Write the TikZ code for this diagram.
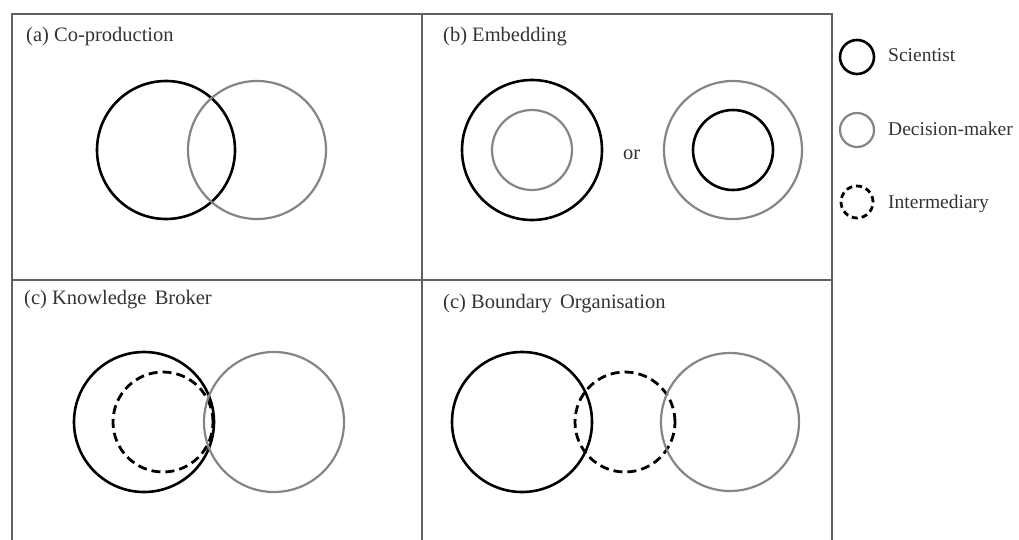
\documentclass[tikz,border=0pt]{standalone}
\usepackage{fontspec}
\setmainfont{Liberation Serif}
\begin{document}
\begin{tikzpicture}[x=1pt,y=-1pt,
  frame/.style={draw=black!62,line width=1.3pt},
  sci/.style={circle,draw=black,line width=2.6pt,inner sep=0pt},
  dm/.style={circle,draw=black!48,line width=2.2pt,inner sep=0pt},
  inter/.style={circle,draw=black,line width=2.8pt,dash pattern=on 9pt off 5pt,inner sep=0pt},
  lbl/.style={anchor=base west,inner sep=0pt,text=black!80,font=\fontsize{19.5}{22}\selectfont},
  plbl/.style={lbl,font=\fontsize{20.5}{23}\selectfont}]
\useasboundingbox (0,0) rectangle (1019,540);
% frame
\coordinate (tl) at (12,14);
\coordinate (tr) at (832,14);
\coordinate (bl) at (12,542);
\coordinate (br) at (832,542);
\coordinate (mt) at (422,14);
\coordinate (mb) at (422,542);
\coordinate (ml) at (12,280);
\coordinate (mr) at (832,280);
\draw[frame] (bl) -- (tl) -- (tr) -- (br);
\draw[frame] (mt) -- (mb);
\draw[frame] (ml) -- (mr);
% (a)
\node[plbl] (la) at (26,42) {(a) Co-production};
\node[sci,minimum size=138pt] (a1) at (166,150) {};
\node[dm,minimum size=138pt] (a2) at (257,150) {};
% (b)
\node[plbl] (lb) at (443,42) {(b) Embedding};
\node[sci,minimum size=140pt] (b1) at (532,150) {};
\node[dm,minimum size=80pt] (b2) at (532,150) {};
\node[plbl] (bor) at (623,160) {or};
\node[dm,minimum size=138pt] (b3) at (733,150) {};
\node[sci,minimum size=80pt] (b4) at (733,150) {};
% (c)
\node[plbl] (lc) at (24,304) {(c) Knowledge\hspace{0.4em}Broker};
\node[sci,minimum size=140pt] (c1) at (144,422) {};
\node[inter,minimum size=100pt] (c2) at (163,422) {};
\node[dm,minimum size=140pt] (c3) at (274,422) {};
% (d)
\node[plbl] (ld) at (443,308) {(c) Boundary\hspace{0.4em}Organisation};
\node[sci,minimum size=140pt] (d1) at (522,422) {};
\node[inter,minimum size=100pt] (d2) at (625,422) {};
\node[dm,minimum size=138pt] (d3) at (730,422) {};
% legend
\node[sci,minimum size=34pt] (k1) at (857,57) {};
\node[lbl] (t1) at (888,62) {Scientist};
\node[dm,minimum size=34pt] (k2) at (857,130) {};
\node[lbl] (t2) at (888,136) {Decision-maker};
\node[inter,minimum size=32pt,dash pattern=on 6pt off 4pt] (k3) at (857,202) {};
\node[lbl] (t3) at (888,208) {Intermediary};
\end{tikzpicture}
\end{document}
